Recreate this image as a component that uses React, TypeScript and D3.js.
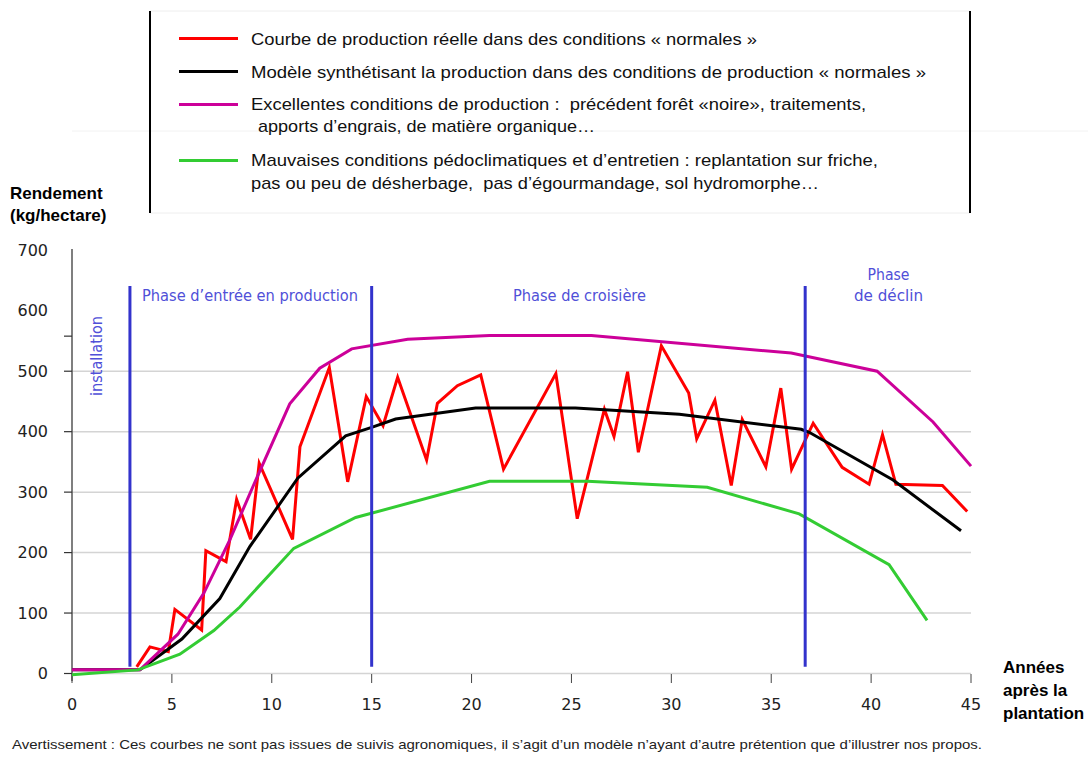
import React from "react";
import * as d3 from "d3";

// ---------- data ----------
const REAL_YEARS = [3.24, 3.9, 4.82, 5.15, 6.49, 6.7, 7.71, 8.24, 8.94, 9.37, 11.04, 11.41, 12.88, 13.8, 14.73, 15.57, 16.3, 17.75, 18.29, 19.29, 20.46, 21.6, 24.22, 25.29, 26.65, 27.13, 27.81, 28.35, 29.5, 30.87, 31.27, 32.18, 33.0, 33.55, 34.73, 35.48, 36.02, 37.1, 38.55, 39.9, 40.57, 41.24, 43.57, 44.81];
const REAL_VALUES = [11, 44, 36, 106, 72, 203, 185, 288, 222, 348, 222, 375, 506, 317, 458, 410, 490, 353, 447, 476, 494, 338, 496, 256, 437, 392, 499, 366, 542, 464, 388, 452, 311, 420, 342, 472, 338, 414, 341, 313, 395, 313, 311, 268];

const MODEL_YEARS = [0, 3.4, 5.5, 7.4, 8.9, 11.3, 13.7, 15, 16.2, 20.2, 25.2, 30.4, 36.5, 36.9, 41.1, 44.5];
const MODEL_VALUES = [6, 6, 57, 124, 210, 323, 393, 407, 421, 439, 439, 429, 404, 399, 320, 236];

const EXCELLENT_YEARS = [0, 3.4, 5.3, 6.6, 7.9, 9.2, 10.9, 12.4, 14, 16.8, 20.9, 26, 36, 40.3, 43.1, 45];
const EXCELLENT_VALUES = [6, 6, 65, 133, 221, 320, 446, 505, 537, 553, 559, 559, 530, 500, 416, 343];

const POOR_YEARS = [0, 3.3, 5.4, 7.1, 8.4, 11.1, 14.2, 20.9, 25.8, 31.8, 36.4, 40.9, 42.8];
const POOR_VALUES = [-2, 6, 32, 71, 110, 207, 258, 318, 318, 308, 264, 180, 88];

const PHASE_BOUNDARIES = [2.9, 15, 36.7];
const X_TICKS = [0, 5, 10, 15, 20, 25, 30, 35, 40, 45];
const Y_LABELS = [0, 100, 200, 300, 400, 500, 600, 700];
const Y_GRID = [0, 100, 200, 300, 400, 500];
const Y_TICK_MARKS = [0, 100, 200, 300, 400, 500, 558];

const SERIES_NAMES = [
  "Courbe de production réelle dans des conditions « normales »",
  "Modèle synthétisant la production dans des conditions de production « normales »",
  "Excellentes conditions de production :  précédent forêt «noire», traitements,",
  "Mauvaises conditions pédoclimatiques et d’entretien : replantation sur friche,",
];
const SERIES_SECOND_LINES = ["", "", " apports d’engrais, de matière organique…", "pas ou peu de désherbage,  pas d’égourmandage, sol hydromorphe…"];
const SERIES_COLORS = ["#ff0000", "#000000", "#cc0099", "#33cc33"];

const FOOTNOTE = "Avertissement : Ces courbes ne sont pas issues de suivis agronomiques, il s’agit d’un modèle n’ayant d’autre prétention que d’illustrer nos propos.";

// ---------- component ----------
export default function App() {
  const W = 1088, H = 760;
  const x = d3.scaleLinear().domain([0, 45]).range([72, 971]);
  const y = d3.scaleLinear().domain([0, 700]).range([673.5, 250.3]);

  const mk = (xs: number[], vs: number[]) =>
    d3.line<number>().x((_, i) => x(xs[i])).y((v) => y(v))(vs) || "";

  const series = [
    { d: mk(REAL_YEARS, REAL_VALUES), c: SERIES_COLORS[0] },
    { d: mk(MODEL_YEARS, MODEL_VALUES), c: SERIES_COLORS[1] },
    { d: mk(EXCELLENT_YEARS, EXCELLENT_VALUES), c: SERIES_COLORS[2] },
    { d: mk(POOR_YEARS, POOR_VALUES), c: SERIES_COLORS[3] },
  ];

  const legendRows = [
    { sy: 38.5, ty: 45, t2y: 0, w1: 506, w2: 0 },
    { sy: 71.5, ty: 78, t2y: 0, w1: 675, w2: 0 },
    { sy: 104.5, ty: 110, t2y: 132, w1: 615, w2: 340 },
    { sy: 160.5, ty: 166, t2y: 189, w1: 627, w2: 568 },
  ];

  const sans = "'Liberation Sans', Arial, sans-serif";
  const dv = "'DejaVu Sans', Verdana, sans-serif";
  const phaseColor = "#5050d8";

  return (
    <div style={{ position: "absolute", left: 0, top: 0 }}>
      <svg width={W} height={H} style={{ display: "block", background: "#fff" }}>
        {/* legend frame */}
        <line x1={150} x2={970} y1={11} y2={11} stroke="#eeeeee" strokeWidth={1} />
        <line x1={150} x2={970} y1={213} y2={213} stroke="#eeeeee" strokeWidth={1} />
        <line x1={72} x2={1088} y1={131} y2={131} stroke="#f2f2f2" strokeWidth={1} />
        <line x1={150} x2={150} y1={11} y2={213} stroke="#000" strokeWidth={2} />
        <line x1={970} x2={970} y1={11} y2={213} stroke="#000" strokeWidth={2} />

        {legendRows.map((r, i) => (
          <g key={i}>
            <line x1={179} x2={238} y1={r.sy} y2={r.sy} stroke={SERIES_COLORS[i]} strokeWidth={3} />
            <text x={251} y={r.ty} fontFamily={sans} fontSize={17} fill="#111" textLength={r.w1} lengthAdjust="spacingAndGlyphs" style={{ whiteSpace: "pre" }}>
              {SERIES_NAMES[i]}
            </text>
            {SERIES_SECOND_LINES[i] && (
              <text x={i === 2 ? 253 : 251} y={r.t2y} fontFamily={sans} fontSize={17} fill="#111" textLength={r.w2 + (i === 2 ? 2 : 0)} lengthAdjust="spacingAndGlyphs" style={{ whiteSpace: "pre" }}>
                {SERIES_SECOND_LINES[i]}
              </text>
            )}
          </g>
        ))}

        {/* axis titles */}
        <text x={10} y={198.5} fontFamily={sans} fontWeight="bold" fontSize={17} fill="#000">Rendement</text>
        <text x={10} y={221} fontFamily={sans} fontWeight="bold" fontSize={17} fill="#000">(kg/hectare)</text>
        <text x={1003} y={673} fontFamily={sans} fontWeight="bold" fontSize={17} fill="#000">Années</text>
        <text x={1003} y={696} fontFamily={sans} fontWeight="bold" fontSize={17} fill="#000">après la</text>
        <text x={1003} y={719} fontFamily={sans} fontWeight="bold" fontSize={17} fill="#000">plantation</text>

        {/* grid */}
        {Y_GRID.map((v) => (
          <line key={v} x1={72} x2={971} y1={y(v)} y2={y(v)} stroke="#d4d4d4" strokeWidth={1.5} />
        ))}

        {/* y axis */}
        <line x1={72} x2={72} y1={249} y2={681} stroke="#555" strokeWidth={1.5} />
        {Y_TICK_MARKS.map((v) => (
          <line key={v} x1={64} x2={72} y1={y(v)} y2={y(v)} stroke="#333" strokeWidth={1.2} />
        ))}
        {Y_LABELS.map((v) => (
          <text key={v} x={48} y={y(v)} textAnchor="end" dominantBaseline="central" fontFamily={dv} fontSize={16} fill="#222">
            {v}
          </text>
        ))}

        {/* x ticks */}
        {X_TICKS.map((t) => (
          <g key={t}>
            <line x1={x(t)} x2={x(t)} y1={674} y2={683} stroke="#444" strokeWidth={1} />
            <text x={x(t)} y={704} textAnchor="middle" dominantBaseline="central" fontFamily={dv} fontSize={16} fill="#222">
              {t}
            </text>
          </g>
        ))}

        {/* series */}
        {series.map((s, i) => (
          <path key={i} d={s.d} fill="none" stroke={s.c} strokeWidth={3} strokeLinejoin="miter" />
        ))}

        {/* phase boundaries */}
        {PHASE_BOUNDARIES.map((p) => (
          <line key={p} x1={x(p)} x2={x(p)} y1={y(641)} y2={y(11)} stroke="#3333cc" strokeWidth={3} />
        ))}

        {/* phase labels */}
        <text x={142} y={301} fontFamily={dv} fontSize={15} fill={phaseColor} textLength={216} lengthAdjust="spacingAndGlyphs">Phase d’entrée en production</text>
        <text x={513} y={301} fontFamily={dv} fontSize={15} fill={phaseColor} textLength={133} lengthAdjust="spacingAndGlyphs">Phase de croisière</text>
        <text x={888.5} y={280} textAnchor="middle" fontFamily={dv} fontSize={15} fill={phaseColor} textLength={42} lengthAdjust="spacingAndGlyphs">Phase</text>
        <text x={888.5} y={300.5} textAnchor="middle" fontFamily={dv} fontSize={15} fill={phaseColor} textLength={69} lengthAdjust="spacingAndGlyphs">de déclin</text>
        <text transform="translate(101.5,356) rotate(-90)" textAnchor="middle" fontFamily={dv} fontSize={15} fill={phaseColor} textLength={80} lengthAdjust="spacingAndGlyphs">installation</text>

        {/* footnote */}
        <text x={12} y={749} fontFamily={sans} fontSize={13} fill="#222" textLength={970} lengthAdjust="spacingAndGlyphs">{FOOTNOTE}</text>
      </svg>
    </div>
  );
}
